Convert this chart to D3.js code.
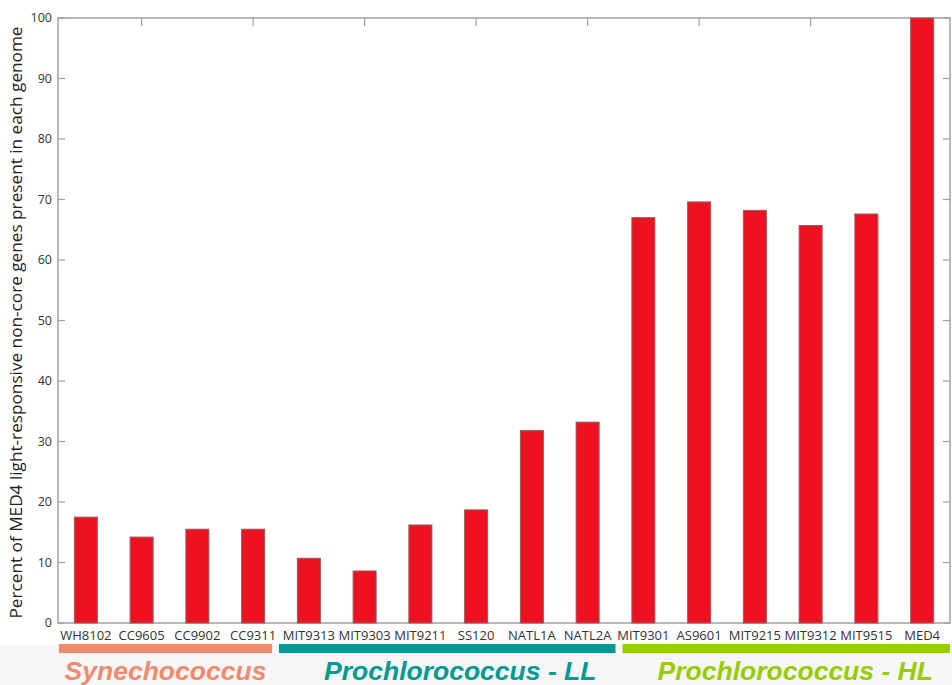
<!DOCTYPE html>
<html><head><meta charset="utf-8">
<script src="https://cdn.jsdelivr.net/npm/d3@7"></script>
<style>body{margin:0;background:#fff}svg{display:block}</style>
</head><body>
<script>
const categories = ["WH8102","CC9605","CC9902","CC9311","MIT9313","MIT9303","MIT9211","SS120","NATL1A","NATL2A","MIT9301","AS9601","MIT9215","MIT9312","MIT9515","MED4"];
const values = [17.5,14.2,15.5,15.5,10.7,8.6,16.2,18.7,31.8,33.2,67.0,69.6,68.2,65.7,67.6,100];
const yTicks = [0,10,20,30,40,50,60,70,80,90,100];
const groups = ["Synechococcus","Prochlorococcus - LL","Prochlorococcus - HL"];
const groupStart = [0,4,10];
const groupEnd = [3,9,15];
const groupColors = ["#ef8a6f","#009a93","#99cc00"];
const yTitle = "Percent of MED4 light-responsive non-core genes present in each genome";

const W=952,H=685;
const svg=d3.select("body").append("svg").attr("width",W).attr("height",H);
svg.append("rect").attr("x",0).attr("y",645).attr("width",W).attr("height",H-645).attr("fill","#f6f6f6");
svg.append("rect").attr("x",0).attr("y",0).attr("width",W).attr("height",645).attr("fill","#fff");

const L=58,R=950,T=18,B=623;
const x=d3.scaleBand().domain(categories).range([L,R]);
const y=d3.scaleLinear().domain([0,100]).range([B,T]);
const bw=23;
const axisCol="#a0a0a0";

svg.append("rect").attr("x",L).attr("y",T).attr("width",R-L).attr("height",B-T)
  .attr("fill","none").attr("stroke",axisCol).attr("stroke-width",1.5);

svg.append("g").selectAll("line").data(yTicks).join("line")
  .attr("x1",L).attr("x2",L+7).attr("y1",d=>y(d)).attr("y2",d=>y(d)).attr("stroke",axisCol).attr("stroke-width",1.2);
svg.append("g").selectAll("line").data(yTicks).join("line")
  .attr("x1",R).attr("x2",R-7).attr("y1",d=>y(d)).attr("y2",d=>y(d)).attr("stroke",axisCol).attr("stroke-width",1.2);
svg.append("g").selectAll("text").data(yTicks).join("text")
  .attr("x",L-6).attr("y",d=>y(d)+4).attr("text-anchor","end")
  .attr("font-family","Open Sans, sans-serif").attr("font-size",12.5).attr("fill","#333").text(d=>d);

const tickCats = categories.filter((d,i)=>i%2===1);
svg.append("g").selectAll("line").data(tickCats).join("line")
  .attr("x1",d=>x(d)+x.bandwidth()/2).attr("x2",d=>x(d)+x.bandwidth()/2)
  .attr("y1",T).attr("y2",T+8).attr("stroke",axisCol).attr("stroke-width",1.2);

svg.append("g").selectAll("rect").data(categories).join("rect")
  .attr("x",d=>x(d)+x.bandwidth()/2-bw/2).attr("width",bw)
  .attr("y",(d,i)=>y(values[i])).attr("height",(d,i)=>B-y(values[i]))
  .attr("fill","#ee1122").attr("stroke","#9a5a5a").attr("stroke-width",1);

svg.append("g").selectAll("text").data(categories).join("text")
  .attr("x",d=>x(d)+x.bandwidth()/2).attr("y",640).attr("text-anchor","middle")
  .attr("font-family","Open Sans, sans-serif").attr("font-size",13).attr("fill","#333").text(d=>d);

svg.append("text").attr("transform",`translate(22,${(T+B)/2+2}) rotate(-90)`)
  .attr("text-anchor","middle").attr("font-family","Open Sans, sans-serif").attr("font-size",17.2)
  .attr("fill","#222").text(yTitle);

groups.forEach((g,i)=>{
  const a = x(categories[groupStart[i]]), b = x(categories[groupEnd[i]])+x.bandwidth();
  const x0 = i===0 ? a+1 : (i===1 ? a-2 : a+7);
  const x1 = i===0 ? b-9 : b;
  const shift = i===0 ? 0 : (i===1 ? 13 : 9);
  svg.append("rect").attr("x",x0).attr("y",644).attr("width",x1-x0).attr("height",9).attr("fill",groupColors[i]);
  svg.append("text").attr("x",(x0+x1)/2+shift).attr("y",680).attr("text-anchor","middle")
    .attr("font-family","Liberation Sans, Arial, sans-serif").attr("font-weight","bold").attr("font-style","italic")
    .attr("font-size",26.5).attr("fill",groupColors[i]).text(g);
});
</script>
</body></html>
